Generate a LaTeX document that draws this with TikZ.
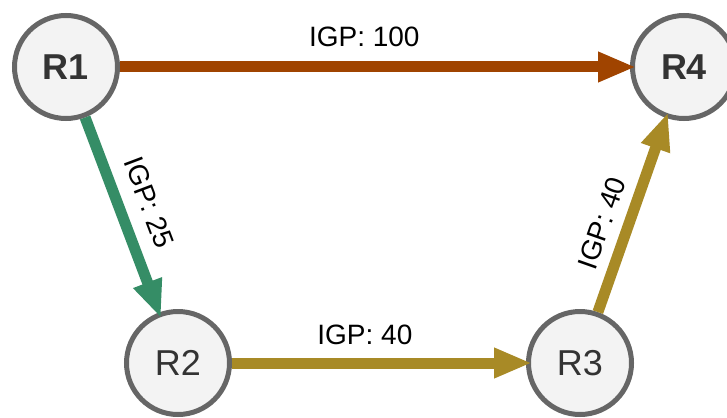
\documentclass[tikz,border=0pt]{standalone}
\usepackage{fontspec}
\setmainfont{Liberation Sans}
\usetikzlibrary{arrows.meta}
\definecolor{ringgray}{HTML}{666666}
\definecolor{nodefill}{HTML}{F3F3F3}
\definecolor{edgebrown}{HTML}{A04400}
\definecolor{edgegreen}{HTML}{358D66}
\definecolor{edgegold}{HTML}{A88A26}
\definecolor{nodetext}{HTML}{333333}
\begin{document}
\begin{tikzpicture}[x=1pt,y=-1pt,
  router/.style={circle, draw=ringgray, line width=5pt, fill=nodefill,
    minimum size=103pt, inner sep=0pt, text=nodetext,
    font=\fontsize{36}{40}\selectfont},
  boldrouter/.style={router, font=\bfseries\fontsize{36}{40}\selectfont},
  link/.style={line width=11pt, -{Triangle[length=38pt,width=28pt]}, shorten >=-6pt},
  lbl/.style={font=\fontsize{28}{32}\selectfont, text=black, inner sep=0pt}
]
\path[use as bounding box] (0,0) rectangle (727,417);
\clip (0,0) rectangle (727,417);
\fill[white] (0,0) rectangle (727,417);
\node[boldrouter] (R1) at (66,67) {R1};
\node[boldrouter] (R4) at (684,67) {R4};
\node[router] (R2) at (178,363) {R2};
\node[router] (R3) at (580,363) {R3};
\draw[link, edgebrown] (R1) -- node[lbl, pos=0.479, above=14.5pt] {IGP: 100} (R4);
\draw[link, edgegreen] (R1) -- node[lbl, sloped, pos=0.49, above=14.5pt] {IGP: 25} (R2);
\draw[link, edgegold] (R2) -- node[lbl, pos=0.452, above=13pt] {IGP: 40} (R3);
\draw[link, edgegold] (R3) -- node[lbl, sloped, pos=0.414, above=10.5pt] {IGP: 40} (R4);
\end{tikzpicture}
\end{document}
